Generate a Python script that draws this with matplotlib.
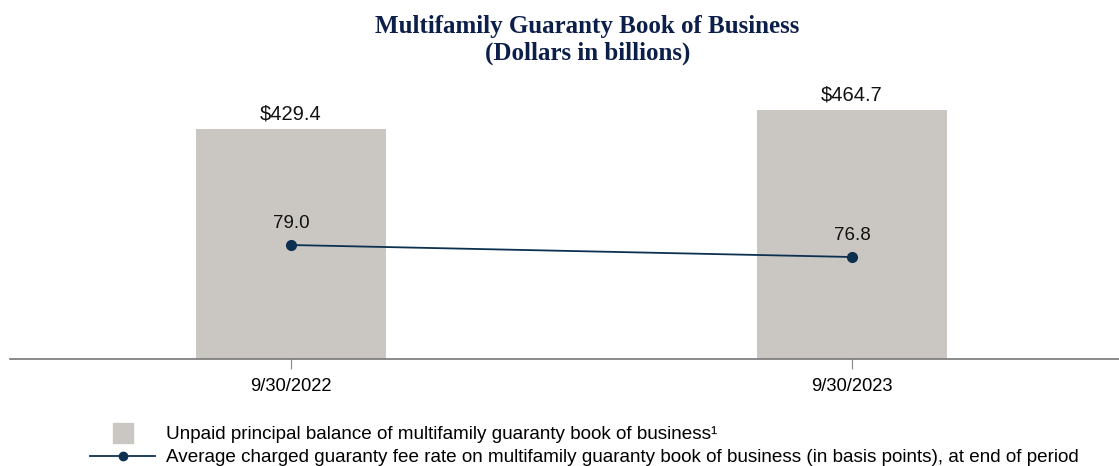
import matplotlib
matplotlib.use("Agg")
import matplotlib.pyplot as plt
from matplotlib.lines import Line2D

# data
periods = ["9/30/2022", "9/30/2023"]
upb = [429.4, 464.7]          # unpaid principal balance, $bn
fee_rate = [79.0, 76.8]       # guaranty fee rate, bps

bar_color = "#cac7c2"
line_color = "#0d3050"
title_color = "#0c1f4a"

plt.rcParams["font.family"] = ["Liberation Sans", "DejaVu Sans"]

fig = plt.figure(figsize=(11.19, 4.66), dpi=100)
ax = fig.add_axes([0.0089, 0.2296, 0.9911, 0.5987])
x = list(range(len(periods)))

ax.bar(x, upb, width=0.34, color=bar_color, zorder=1)
for xi, v in zip(x, upb):
    ax.text(xi, v + 11, f"${v:.1f}", ha="center", va="bottom", fontsize=14.5, color="#111111")

ax.set_xlim(-0.501, 1.476)
ax.set_ylim(0, 520.9)
ax.set_xticks(x)
ax.set_xticklabels(periods, fontsize=13.2)
ax.tick_params(axis="x", length=7, color="#888888", pad=7)
ax.set_yticks([])
for s in ["top", "right", "left"]:
    ax.spines[s].set_visible(False)
ax.spines["bottom"].set_color("#777777")
ax.spines["bottom"].set_linewidth(1.2)

# secondary axis for fee rate
ax2 = ax.twinx()
ax2.plot(x, fee_rate, color=line_color, lw=1.3, marker="o", markersize=7, zorder=3)
for xi, v in zip(x, fee_rate):
    ax2.text(xi, v + 2.4, f"{v:.1f}", ha="center", va="bottom", fontsize=13.5, color="#111111")
ax2.set_ylim(58.1, 109.25)
ax2.set_yticks([])
for s in ["top", "right", "left", "bottom"]:
    ax2.spines[s].set_visible(False)

fig.text(0.525, 0.915, "Multifamily Guaranty Book of Business\n(Dollars in billions)",
         ha="center", va="center", fontsize=18, fontweight="bold",
         family="Liberation Serif", color=title_color, linespacing=1.2)

handles = [
    Line2D([], [], marker="s", linestyle="none", markerfacecolor=bar_color,
           markeredgecolor=bar_color, markersize=14),
    Line2D([], [], color=line_color, lw=1.3, marker="o", markersize=6),
]
labels = [
    "Unpaid principal balance of multifamily guaranty book of business\u00b9",
    "Average charged guaranty fee rate on multifamily guaranty book of business (in basis points), at end of period",
]
fig.legend(handles, labels, loc="upper left", bbox_to_anchor=(0.0804, 0.0858),
           frameon=False, borderpad=0, borderaxespad=0, fontsize=13.6,
           handlelength=3.45, handletextpad=0.55, labelspacing=0.3)

fig.savefig("out.png", dpi=100)
